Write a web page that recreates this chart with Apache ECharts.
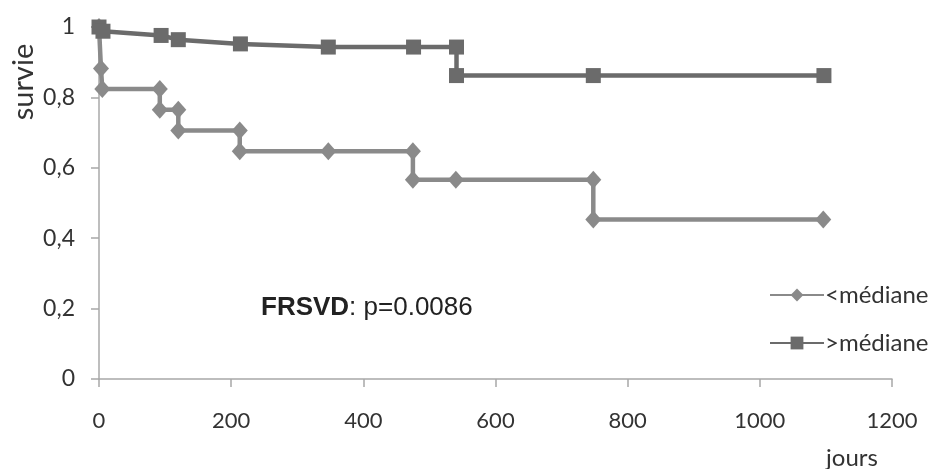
<!DOCTYPE html>
<html>
<head>
<meta charset="utf-8">
<script src="https://cdn.jsdelivr.net/npm/echarts@6/dist/echarts.min.js"></script>
<style>html,body{margin:0;padding:0;background:#fff}#c{width:934px;height:469px}</style>
</head>
<body>
<div id="c"></div>
<script>
// <médiane group (diamonds)
const lowDays = [0, 3, 5, 92, 92, 120, 120, 213, 213, 347, 475, 475, 540, 748, 748, 1096];
const lowSurv = [1, 0.882, 0.824, 0.824, 0.765, 0.765, 0.706, 0.706, 0.647, 0.647, 0.647, 0.566, 0.566, 0.566, 0.453, 0.453];
// >médiane group (squares)
const highDays = [0, 6, 94, 120, 214, 347, 476, 541, 541, 748, 1097];
const highSurv = [1, 0.988, 0.976, 0.964, 0.952, 0.943, 0.943, 0.943, 0.862, 0.862, 0.862];
const seriesNames = ['<médiane', '>médiane'];
const xTicks = [0, 200, 400, 600, 800, 1000, 1200];
const yTicks = [0, 0.2, 0.4, 0.6, 0.8, 1];
const annotationBold = 'FRSVD';
const annotationRest = ': p=0.0086';

const font = 'Lato, "Open Sans", sans-serif';
const zip = (a, b) => a.map((v, i) => [v, b[i]]);

const chart = echarts.init(document.getElementById('c'));
chart.setOption({
  animation: false,
  backgroundColor: '#fff',
  grid: { left: 99, right: 42, top: 27, bottom: 90, containLabel: false },
  xAxis: {
    type: 'value', min: xTicks[0], max: xTicks[xTicks.length - 1], interval: 200,
    axisLine: { show: true, lineStyle: { color: '#a8a8a8', width: 1.5 } },
    axisTick: { show: true, length: 8, lineStyle: { color: '#a8a8a8', width: 1.5 } },
    splitLine: { show: false },
    axisLabel: { color: '#333', fontSize: 22, fontFamily: font, margin: 31,
      formatter: v => String(v) }
  },
  yAxis: {
    type: 'value', min: yTicks[0], max: yTicks[yTicks.length - 1], interval: 0.2,
    axisLine: { show: true, lineStyle: { color: '#a8a8a8', width: 1.5 } },
    axisTick: { show: true, length: 8, lineStyle: { color: '#a8a8a8', width: 1.5 } },
    splitLine: { show: false },
    axisLabel: { color: '#333', fontSize: 23, fontFamily: font, margin: 24,
      formatter: v => String(Math.round(v * 10) / 10).replace('.', ',') }
  },
  legend: {
    orient: 'vertical', left: 764, top: 278, itemWidth: 54, itemHeight: 16, itemGap: 24,
    textStyle: { color: '#333', fontSize: 24, fontFamily: font, padding: [0, 0, 0, -4] },
    data: seriesNames
  },
  series: [
    {
      name: seriesNames[0], type: 'line', data: zip(lowDays, lowSurv),
      symbol: 'diamond', symbolSize: [16, 18], showAllSymbol: true,
      lineStyle: { color: '#8a8a8a', width: 4.5 },
      itemStyle: { color: '#8a8a8a' }, z: 2
    },
    {
      name: seriesNames[1], type: 'line', data: zip(highDays, highSurv),
      symbol: 'rect', symbolSize: 15, showAllSymbol: true,
      lineStyle: { color: '#6b6b6b', width: 4.5 },
      itemStyle: { color: '#6b6b6b' }, z: 3
    }
  ],
  graphic: [
    { type: 'text', x: 24, y: 82, rotation: Math.PI / 2,
      style: { text: 'survie', fill: '#333', fontSize: 29, fontFamily: font, align: 'center', verticalAlign: 'middle' } },
    { type: 'text', x: 852, y: 458,
      style: { text: 'jours', fill: '#333', fontSize: 24, fontFamily: font, align: 'center', verticalAlign: 'middle' } },
    { type: 'text', x: 261, y: 308,
      style: {
        text: '{b|' + annotationBold + '}{r|' + annotationRest + '}',
        verticalAlign: 'middle',
        rich: {
          b: { fontSize: 26, fontWeight: 'bold', fontFamily: 'Liberation Sans, Arial, sans-serif', fill: '#222' },
          r: { fontSize: 26, fontFamily: 'Liberation Sans, Arial, sans-serif', fill: '#222' }
        }
      } }
  ]
});
</script>
</body>
</html>
